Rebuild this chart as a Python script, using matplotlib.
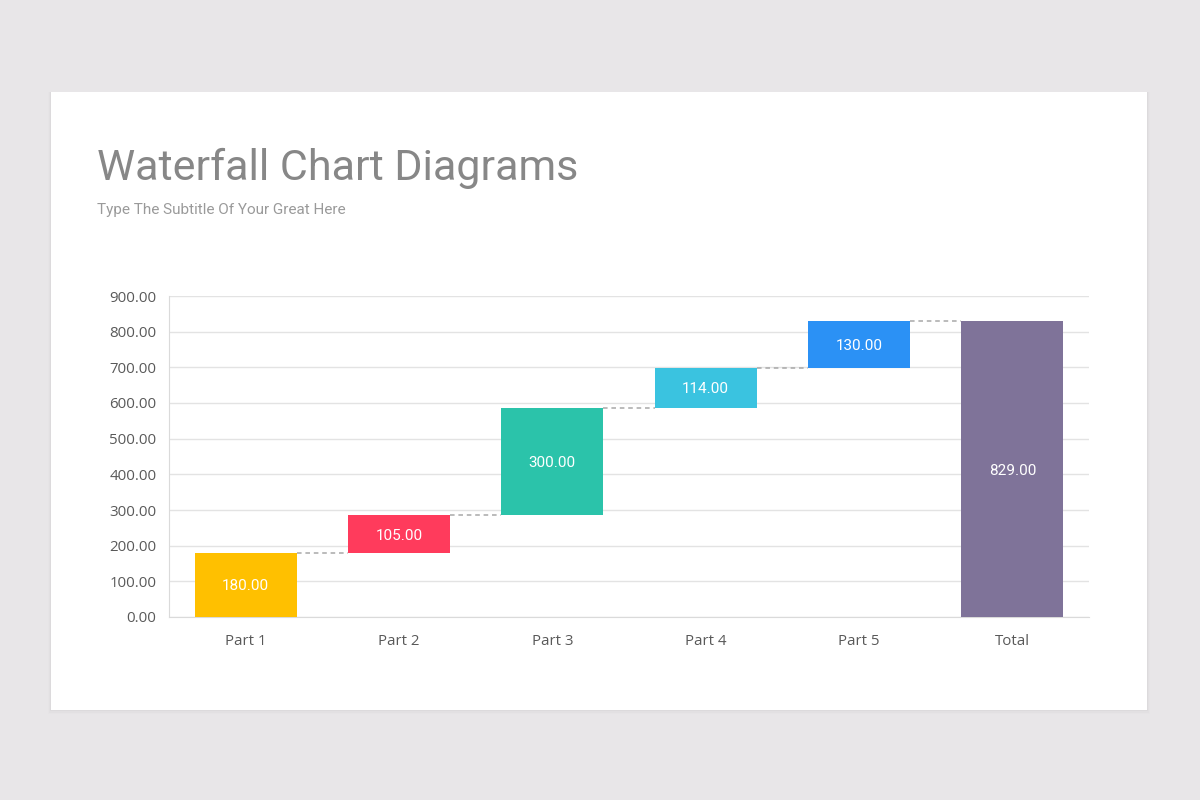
import matplotlib.pyplot as plt
from matplotlib.patches import Rectangle

# data
categories = ["Part 1", "Part 2", "Part 3", "Part 4", "Part 5", "Total"]
changes = [180, 105, 300, 114, 130]
bar_colors = ["#FFC000", "#FF3B5C", "#2BC3AA", "#3AC3E0", "#2B91F5", "#7F7399"]
yticks = [0, 100, 200, 300, 400, 500, 600, 700, 800, 900]

# running totals
bottoms = []
running = 0
for c in changes:
    bottoms.append(running)
    running += c
total = running
heights = changes + [total]
bottoms = bottoms + [0]

fig = plt.figure(figsize=(12, 8), dpi=100)
fig.patch.set_facecolor("#E8E6E8")

# white card with a soft shadow
for i, a in enumerate([0.025, 0.015, 0.008]):
    d = (i + 1) / 1200
    fig.patches.append(Rectangle((51 / 1200 - d, 90 / 800 - d * 2), 1096 / 1200 + 2 * d,
                                 618 / 800 + 2 * d, transform=fig.transFigure,
                                 facecolor="black", alpha=a, edgecolor="none", zorder=0))
fig.patches.append(Rectangle((51 / 1200, 90 / 800), 1096 / 1200, 618 / 800,
                             transform=fig.transFigure, facecolor="white",
                             edgecolor="none", zorder=0))

fig.text(97 / 1200, 1 - 180 / 800, "Waterfall Chart Diagrams", fontsize=31,
         color="#878787", family="Roboto", va="baseline")
fig.text(97 / 1200, 1 - 214 / 800, "Type The Subtitle Of Your Great Here", fontsize=11,
         color="#9A9A9A", family="Roboto", va="baseline")

ax = fig.add_axes([169 / 1200, 1 - 617 / 800, 920 / 1200, 321 / 800])
ax.set_zorder(2)
ax.set_facecolor("none")

x = list(range(len(categories)))
width = 0.667
ax.bar(x, heights, bottom=bottoms, width=width, color=bar_colors, zorder=3)

# connectors
tops = [b + h for b, h in zip(bottoms, heights)]
for i in range(len(categories) - 1):
    level = tops[i]
    ax.plot([i + width / 2, i + 1 - width / 2], [level, level], color="#A8A8A8",
            lw=1.1, ls=(0, (3, 2.5)), zorder=2)

# value labels
for i in range(len(categories)):
    ax.text(x[i], bottoms[i] + heights[i] / 2 - 4, f"{heights[i]:.2f}", ha="center",
            va="center", color="white", fontsize=11, family="Roboto", zorder=4)

ax.set_xlim(-0.5, len(categories) - 0.5)
ax.set_ylim(0, 900)
ax.set_yticks(yticks)
ax.set_yticklabels([f"{v:.2f}" for v in yticks])
ax.set_xticks(x)
ax.set_xticklabels(categories)
ax.tick_params(axis="both", length=0, colors="#595959", labelsize=10.8)
ax.tick_params(axis="y", pad=9)
ax.tick_params(axis="x", pad=12)
for lab in ax.get_xticklabels() + ax.get_yticklabels():
    lab.set_family("Open Sans")

ax.grid(axis="y", color="#E3E3E3", lw=1, zorder=0)
for s in ["top", "right"]:
    ax.spines[s].set_visible(False)
ax.spines["left"].set_color("#DADADA")
ax.spines["bottom"].set_color("#DADADA")

fig.savefig("out.png", dpi=100, facecolor=fig.get_facecolor())
